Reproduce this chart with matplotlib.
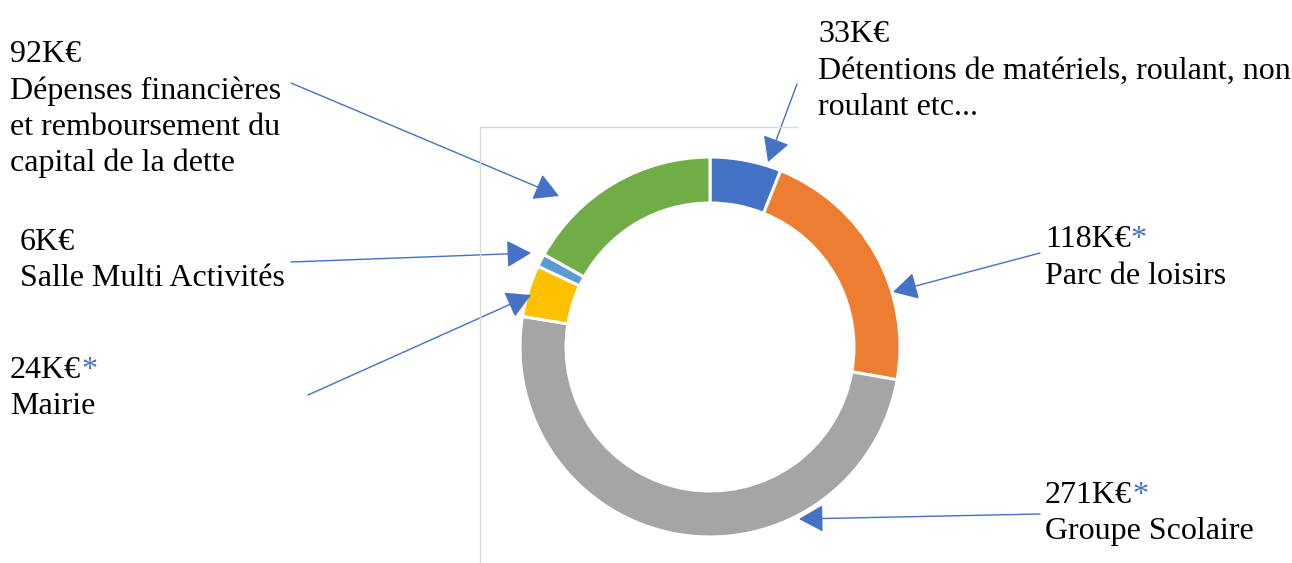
import matplotlib.pyplot as plt
from matplotlib.patches import FancyArrowPatch

plt.rcParams['font.family'] = ['Liberation Serif', 'DejaVu Serif']

# data, clockwise from the top
values = [33, 118, 271, 24, 6, 92]
amounts = ['33K€', '118K€', '271K€', '24K€', '6K€', '92K€']
starred = [False, True, True, True, False, False]
names = [['Détentions de matériels, roulant, non', 'roulant etc...'],
         ['Parc de loisirs'],
         ['Groupe Scolaire'],
         ['Mairie'],
         ['Salle Multi Activités'],
         ['Dépenses financières', 'et remboursement du', 'capital de la dette']]
colors = ['#4472C4', '#ED7D31', '#A5A5A5', '#FFC000', '#5B9BD5', '#70AD47']

W, H = 1292, 563
fig = plt.figure(figsize=(W / 100, H / 100), dpi=100)
ax = fig.add_axes([0, 0, 1, 1])

def Y(y):
    return H - y

# light frame of the plot area
ax.plot([480, 480, 797], [Y(563), Y(127), Y(127)], color='#D9D9D9', lw=1)

ax.pie(values, colors=colors, startangle=90, counterclock=False,
       center=(710, Y(347)), radius=190, frame=True,
       wedgeprops=dict(width=46, edgecolor='white', linewidth=2.2))
ax.set_xlim(0, W)
ax.set_ylim(0, H)
ax.axis('off')

# label positions: (x, baseline of first line), arrow start, arrow tip
label_pos = [(818, 42), (1045, 247), (1045, 503), (10, 378), (20, 250), (10, 62)]
arrow_from = [(797, 84), (1040, 253), (1040, 514), (308, 395), (291, 262), (291, 83)]
arrow_to = [(768, 162), (893, 292), (799, 519), (531, 295), (531, 253), (559, 196)]

fs = 23
lsp = 36.5
for i in range(len(values)):
    x, y = label_pos[i]
    t = ax.text(x, Y(y), amounts[i], fontsize=fs, va='baseline', ha='left')
    if starred[i]:
        ax.annotate('*', xy=(1, 0), xycoords=t, fontsize=fs, va='bottom',
                    ha='left', color='#4472C4')
    for j, line in enumerate(names[i]):
        ax.text(x, Y(y + lsp * (j + 1)), line, fontsize=fs, va='baseline', ha='left')
    a = FancyArrowPatch((arrow_from[i][0], Y(arrow_from[i][1])),
                        (arrow_to[i][0], Y(arrow_to[i][1])),
                        arrowstyle='-|>,head_length=0.9,head_width=0.5',
                        mutation_scale=17, color='#4472C4', lw=1.0,
                        shrinkA=0, shrinkB=0)
    ax.add_patch(a)

fig.savefig('out.png', dpi=100)
